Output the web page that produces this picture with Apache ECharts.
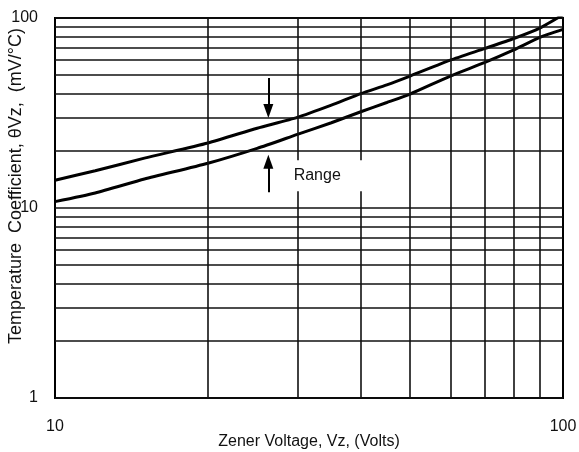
<!DOCTYPE html>
<html>
<head>
<meta charset="utf-8">
<script src="https://cdn.jsdelivr.net/npm/echarts@6/dist/echarts.min.js"></script>
<style>
  html, body { margin: 0; padding: 0; background: #fff; }
  #chart { width: 579px; height: 452px; }
</style>
</head>
<body>
<div id="chart"></div>
<script>
var chartDom = document.getElementById('chart');
var myChart = echarts.init(chartDom);

// zener voltage (V)
var voltage = [10, 12, 15, 20, 25, 30, 35, 40, 45, 50, 60, 70, 80, 90, 100];
// upper / lower edge of the temperature coefficient range (mV/°C)
var upperTc = [14.0, 15.7, 18.3, 22.0, 26.3, 30.0, 34.8, 40.0, 44.5, 49.5, 60.0, 69.0, 78.0, 88.5, 104];
var lowerTc = [10.8, 12.0, 14.2, 17.2, 20.6, 24.4, 28.1, 32.1, 35.9, 39.8, 49.5, 58.2, 67.9, 79.1, 87.2];

// minor grid values of the log paper
var xMinor = [20, 30, 40, 50, 60, 70, 80, 90];
var yMinor = [2, 3, 4, 5, 6, 7, 8, 9, 20, 30, 40, 50, 60, 70, 80, 90];

// annotation anchors, data coords
var downArrow = [[26.3, 48.3], [26.3, 32.4]];
var upArrow = [[26.3, 12.1], [26.3, 17.5]];
var rangeLabel = [34.5, 14.8];

var font = 'Liberation Sans, Arial, sans-serif';
var gridStyle = { color: '#111', width: 1.6, type: 'solid' };

function pairs(xs, ys) {
    return xs.map(function (x, i) { return [x, ys[i]]; });
}

var gridLines = []
    .concat(xMinor.map(function (v) { return { xAxis: v }; }))
    .concat(yMinor.map(function (v) { return { yAxis: v }; }));

var option = {
    backgroundColor: '#fff',
    animation: false,
    grid: {
        left: 55, right: 16, top: 18, bottom: 54,
        outerBoundsMode: 'none', containLabel: false,
        show: true, borderColor: '#000', borderWidth: 2
    },
    xAxis: {
        type: 'log', logBase: 10, min: 10, max: 100,
        name: 'Zener Voltage, Vz, (Volts)',
        nameLocation: 'middle', nameGap: 36, nameMoveOverlap: false,
        nameTextStyle: { fontFamily: font, fontSize: 16, color: '#111' },
        axisLine: { show: false },
        axisTick: { show: false },
        axisLabel: { fontFamily: font, fontSize: 16, color: '#111', margin: 21 },
        splitLine: { show: false }
    },
    yAxis: {
        type: 'log', logBase: 10, min: 1, max: 100,
        name: 'Temperature  Coefficient, θVz,  (mV/°C)',
        nameLocation: 'middle', nameGap: 30, nameMoveOverlap: false,
        nameTextStyle: {
            fontFamily: font, fontSize: 18, color: '#111',
            padding: [0, 0, 0, 44]
        },
        axisLine: { show: false },
        axisTick: { show: false },
        axisLabel: { fontFamily: font, fontSize: 16, color: '#111', margin: 17 },
        splitLine: { show: true, lineStyle: gridStyle }
    },
    series: [
        {
            type: 'line', data: [], silent: true, z: 1,
            markLine: {
                silent: true, symbol: 'none', animation: false,
                label: { show: false },
                lineStyle: gridStyle,
                data: gridLines
            }
        },
        {
            type: 'line', data: pairs(voltage, upperTc), z: 3,
            smooth: 0.2, symbol: 'none', clip: true,
            lineStyle: { color: '#000', width: 3 }
        },
        {
            type: 'line', data: pairs(voltage, lowerTc), z: 3,
            smooth: 0.2, symbol: 'none', clip: true,
            lineStyle: { color: '#000', width: 3 }
        },
        {
            type: 'line', data: [], silent: true, z: 5,
            markLine: {
                silent: true, animation: false,
                symbol: ['none', 'triangle'], symbolSize: [10, 14],
                label: { show: false },
                lineStyle: { color: '#000', width: 2, type: 'solid' },
                data: [
                    [{ coord: downArrow[0] }, { coord: downArrow[1] }],
                    [{ coord: upArrow[0] }, { coord: upArrow[1] }]
                ]
            },
            markPoint: {
                silent: true, animation: false,
                symbol: 'rect', symbolSize: [78, 31],
                itemStyle: { color: '#fff' },
                label: {
                    show: true, position: 'inside', formatter: 'Range',
                    offset: [-11, 0],
                    fontFamily: font, fontSize: 16, color: '#111'
                },
                data: [{ coord: rangeLabel }]
            }
        }
    ]
};

option && myChart.setOption(option);
</script>
</body>
</html>
